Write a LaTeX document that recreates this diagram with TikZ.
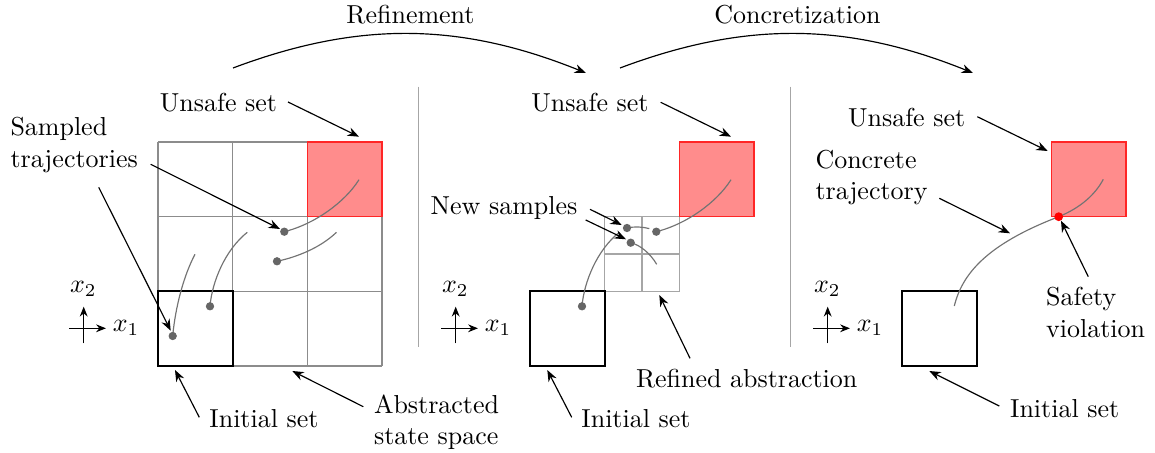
\documentclass[tikz,border=0pt]{standalone}
\usetikzlibrary{arrows.meta}
\begin{document}
\begin{tikzpicture}[x=0.385pt,y=-0.385pt,
  lbl/.style={inner sep=0pt},
  mlbl/.style={inner sep=0pt, align=left, anchor=west},
  pointer/.style={-{Stealth[length=4.4pt,width=3.4pt]}, line width=0.45pt},
  cellgrid/.style={draw=black!45, line width=0.5pt},
  finegrid/.style={draw=black!35, line width=0.5pt},
  unsafebox/.style={fill=red!45, draw=red!85, line width=0.6pt},
  initbox/.style={draw=black, line width=0.85pt},
  traj/.style={draw=black!55, line width=0.45pt},
  sample/.style={fill=black!60},
  violation/.style={fill=red},
  divider/.style={draw=black!35, line width=0.55pt},
  axis/.style={-{Stealth[length=3.8pt,width=3pt]}, line width=0.5pt}]
\useasboundingbox (0,0) rectangle (1155,453);

% ---------- process arrows on top ----------
\coordinate (r0) at (233,68);
\coordinate (r1) at (586,73);
\coordinate (c0) at (620,68);
\coordinate (c1) at (973,73);
\draw[pointer] (r0) .. controls (358,21) and (460,22) .. (r1);
\draw[pointer] (c0) .. controls (745,21) and (847,22) .. (c1);
\node[lbl] (refine) at (410.5,15) {Refinement};
\node[lbl] (concr) at (797.5,15) {Concretization};

% ---------- dividers ----------
\coordinate (d1a) at (418.3,86.7);
\coordinate (d1b) at (418.3,346.7);
\coordinate (d2a) at (790.7,86.7);
\coordinate (d2b) at (790.7,346.7);
\draw[divider] (d1a) -- (d1b);
\draw[divider] (d2a) -- (d2b);

% ---------- axes (one per panel) ----------
\foreach \s/\n in {0/a,372/b,744/c}{
  \begin{scope}[xshift=\s*0.385pt]
    \coordinate (hx0\n) at (69,328.3);
    \coordinate (hx1\n) at (106,328.3);
    \coordinate (vy0\n) at (83.7,343.3);
    \coordinate (vy1\n) at (83.7,306.7);
    \draw[axis] (hx0\n) -- (hx1\n);
    \draw[axis] (vy0\n) -- (vy1\n);
    \node[lbl] (xa\n) at (126,328.3) {$x_1$};
    \node[lbl] (xb\n) at (83.3,289.3) {$x_2$};
  \end{scope}
}

% ================= panel 1: sampled abstraction =================
\foreach \v in {158,232.67,307.33,382}{
  \draw[cellgrid] (\v,142) -- (\v,366);
  \draw[cellgrid] (158,{\v-16}) -- (382,{\v-16});
}
\filldraw[unsafebox] (307.33,142) rectangle (382,216.67);
\draw[initbox] (158,291.33) rectangle (232.67,366);

\draw[traj] (172.7,336) .. controls (175.5,306) and (184,275) .. (195,254.3);
\draw[traj] (210,306.3) .. controls (212,282) and (225,250) .. (247.3,232.3);
\draw[traj] (284.3,231.7) .. controls (315,224) and (345,202) .. (359,179.7);
\draw[traj] (277,261.3) .. controls (297,257) and (320,248) .. (336.5,232.3);
\foreach \p in {{172.7,336},{210,306.3},{284.3,231.7},{277,261.3}}
  \fill[sample] (\p) circle (1.6pt);

\node[lbl] (unsafeA) at (218.5,103) {Unsafe set};
\node[mlbl] (sampled) at (10,145) {Sampled\\trajectories};
\node[lbl] (initA) at (264,419) {Initial set};
\node[mlbl] (abstr) at (373.5,422) {Abstracted\\state space};

\coordinate (uAs) at (288,102);      \coordinate (uAe) at (359,136.7);
\coordinate (sAs) at (150.7,164.3);  \coordinate (sAe) at (280,229);
\coordinate (sBs) at (98.7,187.3);   \coordinate (sBe) at (170.7,330.7);
\coordinate (iAs) at (199.3,417.3);  \coordinate (iAe) at (175,370);
\coordinate (aAs) at (363.3,406.7);  \coordinate (aAe) at (292.3,371);
\draw[pointer] (uAs) -- (uAe);
\draw[pointer] (sAs) -- (sAe);
\draw[pointer] (sBs) -- (sBe);
\draw[pointer] (iAs) -- (iAe);
\draw[pointer] (aAs) -- (aAe);

% ================= panel 2: refined abstraction =================
\draw[finegrid] (604.67,216.67) rectangle (679.33,291.33);
\draw[finegrid] (642,216.67) -- (642,291.33);
\draw[finegrid] (604.67,254) -- (679.33,254);
\filldraw[unsafebox] (679.33,142) rectangle (754,216.67);
\draw[initbox] (530,291.33) rectangle (604.67,366);

\draw[traj] (582,306.3) .. controls (584,282) and (597,250) .. (619.3,232.3);
\draw[traj] (656.3,231.7) .. controls (687,224) and (717,202) .. (731,179.7);
\draw[traj] (627,228) .. controls (635,226.3) and (642,226.8) .. (649.3,228.6);
\draw[traj] (630.7,242.7) .. controls (640,245) and (650,253) .. (656.7,264.3);
\foreach \p in {{582,306.3},{656.3,231.7},{627,228},{630.7,242.7}}
  \fill[sample] (\p) circle (1.6pt);

\node[lbl] (unsafeB) at (590,103) {Unsafe set};
\node[lbl] (newsmp) at (504,208.3) {New samples};
\node[lbl] (refined) at (746.7,378.3) {Refined abstraction};
\node[lbl] (initB) at (636,419) {Initial set};

\coordinate (uBs) at (660.7,102.3);  \coordinate (uBe) at (731,136.7);
\coordinate (nAs) at (590,209.3);    \coordinate (nAe) at (621.7,225);
\coordinate (nBs) at (585.7,220);    \coordinate (nBe) at (626,239.3);
\coordinate (rBs) at (690,358.3);    \coordinate (rBe) at (659.3,295);
\coordinate (iBs) at (571.7,417.3);  \coordinate (iBe) at (547.3,370);
\draw[pointer] (uBs) -- (uBe);
\draw[pointer] (nAs) -- (nAe);
\draw[pointer] (nBs) -- (nBe);
\draw[pointer] (rBs) -- (rBe);
\draw[pointer] (iBs) -- (iBe);

% ================= panel 3: concrete counterexample =================
\filldraw[unsafebox] (1051.33,142) rectangle (1126,216.67);
\draw[initbox] (902,291.33) rectangle (976.67,366);

\draw[traj] (954.3,306) .. controls (962,275) and (985,245) .. (1058.7,216.7)
  .. controls (1080,208) and (1095,195) .. (1103.3,179.3);
\fill[violation] (1058.7,216.7) circle (1.7pt);

\node[lbl] (unsafeC) at (906.7,117.3) {Unsafe set};
\node[mlbl] (concrete) at (815,177.5) {Concrete\\trajectory};
\node[mlbl] (safety) at (1045.7,312.5) {Safety\\violation};
\node[lbl] (initC) at (1064.7,408.3) {Initial set};

\coordinate (uCs) at (977.3,116.7);  \coordinate (uCe) at (1047.7,151);
\coordinate (kCs) at (939.3,198.3);  \coordinate (kCe) at (1010,233.3);
\coordinate (vCs) at (1088.3,276.7); \coordinate (vCe) at (1061,220.7);
\coordinate (iCs) at (999.3,406);    \coordinate (iCe) at (929.3,371);
\draw[pointer] (uCs) -- (uCe);
\draw[pointer] (kCs) -- (kCe);
\draw[pointer] (vCs) -- (vCe);
\draw[pointer] (iCs) -- (iCe);
\end{tikzpicture}
\end{document}
